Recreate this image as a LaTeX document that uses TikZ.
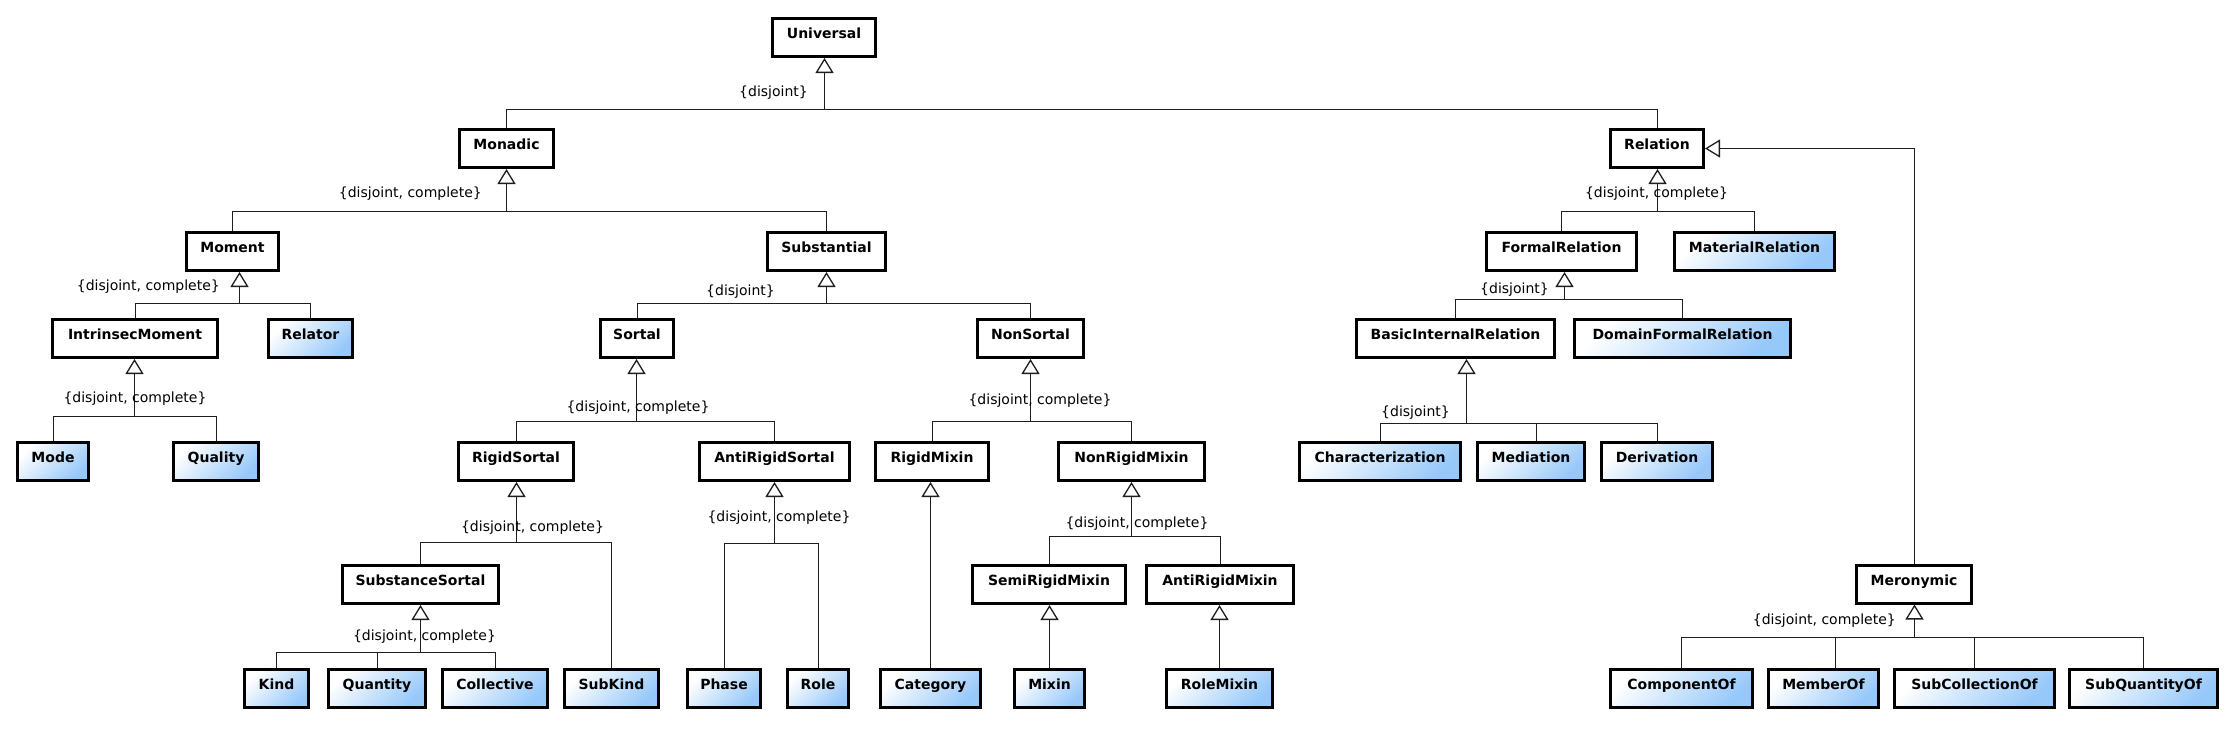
\documentclass[tikz,border=0pt]{standalone}
\usepackage{fontspec}
\setmainfont{DejaVu Sans}
\usetikzlibrary{arrows.meta}
\definecolor{umlblue}{RGB}{150,200,250}
\definecolor{linegray}{RGB}{30,30,30}
\tikzset{
  clsbase/.style={draw=black, line width=3pt, rectangle, inner sep=0pt,
    minimum height=38pt, font=\fontsize{14}{16}\selectfont\bfseries,
    text height=10pt, text depth=8pt},
  cls/.style={clsbase, fill=white},
  leaf/.style={clsbase, top color=white, bottom color=umlblue, shading angle=45},
  gen/.style={draw=linegray, line width=1pt, -{Triangle[open, length=15pt, width=18pt, line width=1.3pt]}},
  bus/.style={draw=linegray, line width=1pt},
  lbl/.style={inner sep=0pt, font=\fontsize{14}{16}\selectfont},
}
\begin{document}
\begin{tikzpicture}[x=1pt,y=-1pt]
\fill[white] (0,0) rectangle (2229,729);
\useasboundingbox (0,0) rectangle (2229,729);

% ---- classes ----
\node[cls, minimum width=103] (Universal) at (824,37.5) {Universal};
\node[cls, minimum width=94] (Monadic) at (506.5,148.5) {Monadic};
\node[cls, minimum width=93] (Relation) at (1657,148.5) {Relation};
\node[cls, minimum width=92] (Moment) at (232.5,251.5) {Moment};
\node[cls, minimum width=118] (Substantial) at (826.5,251.5) {Substantial};
\node[cls, minimum width=150] (FormalRelation) at (1561.5,251.5) {FormalRelation};
\node[leaf, minimum width=160] (MaterialRelation) at (1754.5,251.5) {MaterialRelation};
\node[cls, minimum width=165] (IntrinsecMoment) at (135,338.5) {IntrinsecMoment};
\node[leaf, minimum width=84] (Relator) at (310.5,338.5) {Relator};
\node[cls, minimum width=73] (Sortal) at (637,338.5) {Sortal};
\node[cls, minimum width=106] (NonSortal) at (1030.5,338.5) {NonSortal};
\node[cls, minimum width=198] (BasicInternalRelation) at (1455.5,338.5) {BasicInternalRelation};
\node[leaf, minimum width=216] (DomainFormalRelation) at (1682.5,338.5) {DomainFormalRelation};
\node[leaf, minimum width=71] (Mode) at (53,461.5) {Mode};
\node[leaf, minimum width=85] (Quality) at (216,461.5) {Quality};
\node[cls, minimum width=115] (RigidSortal) at (516,461.5) {RigidSortal};
\node[cls, minimum width=150] (AntiRigidSortal) at (774.5,461.5) {AntiRigidSortal};
\node[cls, minimum width=113] (RigidMixin) at (932,461.5) {RigidMixin};
\node[cls, minimum width=146] (NonRigidMixin) at (1131.5,461.5) {NonRigidMixin};
\node[leaf, minimum width=161] (Characterization) at (1380,461.5) {Characterization};
\node[leaf, minimum width=107] (Mediation) at (1531,461.5) {Mediation};
\node[leaf, minimum width=111] (Derivation) at (1657,461.5) {Derivation};
\node[cls, minimum width=156] (SubstanceSortal) at (420.5,584.5) {SubstanceSortal};
\node[cls, minimum width=153] (SemiRigidMixin) at (1049,584.5) {SemiRigidMixin};
\node[cls, minimum width=147] (AntiRigidMixin) at (1220,584.5) {AntiRigidMixin};
\node[cls, minimum width=115] (Meronymic) at (1914,584) {Meronymic};
\node[leaf, minimum width=64] (Kind) at (276.5,688.5) {Kind};
\node[leaf, minimum width=97] (Quantity) at (377,688.5) {Quantity};
\node[leaf, minimum width=105] (Collective) at (495,688.5) {Collective};
\node[leaf, minimum width=94] (SubKind) at (611.5,688.5) {SubKind};
\node[leaf, minimum width=73] (Phase) at (724,688.5) {Phase};
\node[leaf, minimum width=61] (Role) at (818,688.5) {Role};
\node[leaf, minimum width=100] (Category) at (930.5,688.5) {Category};
\node[leaf, minimum width=70] (Mixin) at (1049.5,688.5) {Mixin};
\node[leaf, minimum width=106] (RoleMixin) at (1219.5,688.5) {RoleMixin};
\node[leaf, minimum width=142] (ComponentOf) at (1681.5,688.5) {ComponentOf};
\node[leaf, minimum width=110] (MemberOf) at (1823.5,688.5) {MemberOf};
\node[leaf, minimum width=160] (SubCollectionOf) at (1974.5,688.5) {SubCollectionOf};
\node[leaf, minimum width=148] (SubQuantityOf) at (2143.5,688.5) {SubQuantityOf};

% ---- generalization set junctions ----
\coordinate (gU) at (824.5,109.5);
\coordinate (gMo) at (506.5,211.5);
\coordinate (gR) at (1657.5,211.5);
\coordinate (gMm) at (239.5,303.5);
\coordinate (gS) at (826.5,303.5);
\coordinate (gF) at (1564.5,299.5);
\coordinate (gIM) at (134.5,416.5);
\coordinate (gSo) at (636.5,421.5);
\coordinate (gNS) at (1030.5,421.5);
\coordinate (gB) at (1466.5,423.5);
\coordinate (gRS) at (516.5,542.5);
\coordinate (gAS) at (774.5,543.5);
\coordinate (gNR) at (1131.5,536.5);
\coordinate (gSS) at (420.5,652.5);
\coordinate (gM) at (1914.5,637.5);
\coordinate (tMed) at (1536.5,0);
\coordinate (tMem) at (1835.5,0);

% ---- arrows to parents ----
\foreach \g/\p in {gU/Universal, gMo/Monadic, gR/Relation, gMm/Moment, gS/Substantial,
  gF/FormalRelation, gIM/IntrinsecMoment, gSo/Sortal, gNS/NonSortal, gB/BasicInternalRelation,
  gRS/RigidSortal, gAS/AntiRigidSortal, gNR/NonRigidMixin, gSS/SubstanceSortal, gM/Meronymic}
  \draw[gen] (\g) -- (\p.south -| \g);

% ---- bus lines from children ----
\foreach \c/\g in {Monadic/gU, Relation/gU, Moment/gMo, Substantial/gMo,
  FormalRelation/gR, MaterialRelation/gR, IntrinsecMoment/gMm, Relator/gMm,
  Sortal/gS, NonSortal/gS, BasicInternalRelation/gF, DomainFormalRelation/gF,
  Mode/gIM, Quality/gIM, RigidSortal/gSo, AntiRigidSortal/gSo,
  RigidMixin/gNS, NonRigidMixin/gNS, Characterization/gB, Derivation/gB,
  SubstanceSortal/gRS, SubKind/gRS, Phase/gAS, Role/gAS,
  SemiRigidMixin/gNR, AntiRigidMixin/gNR, Kind/gSS, Quantity/gSS, Collective/gSS,
  ComponentOf/gM, SubCollectionOf/gM, SubQuantityOf/gM}
  \draw[bus] (\c.north) |- (\g);
\draw[bus] (Mediation.north -| tMed) |- (gB);
\draw[bus] (MemberOf.north -| tMem) |- (gM);

% ---- single generalizations ----
\draw[gen] (Category.north) -- (RigidMixin.south -| Category.north);
\draw[gen] (Mixin.north) -- (SemiRigidMixin.south -| Mixin.north);
\draw[gen] (RoleMixin.north) -- (AntiRigidMixin.south -| RoleMixin.north);
\draw[gen] (Meronymic.north) |- (Relation.east);

% ---- constraint labels ----
\node[lbl, anchor=base east] (lU) at (808,96.5) {\{disjoint\}};
\node[lbl, anchor=base east] (lMo) at (482,197.5) {\{disjoint, complete\}};
\node[lbl, anchor=base] (lR) at (1656.5,197.5) {\{disjoint, complete\}};
\node[lbl, anchor=base east] (lMm) at (220,290.5) {\{disjoint, complete\}};
\node[lbl, anchor=base east] (lS) at (775,295.5) {\{disjoint\}};
\node[lbl, anchor=base east] (lF) at (1549,293.5) {\{disjoint\}};
\node[lbl, anchor=base] (lIM) at (135,402.5) {\{disjoint, complete\}};
\node[lbl, anchor=base] (lSo) at (638,411.5) {\{disjoint, complete\}};
\node[lbl, anchor=base] (lNS) at (1040,404.5) {\{disjoint, complete\}};
\node[lbl, anchor=base east] (lB) at (1450,416.5) {\{disjoint\}};
\node[lbl, anchor=base] (lRS) at (532.5,531.5) {\{disjoint, complete\}};
\node[lbl, anchor=base] (lAS) at (779,521.5) {\{disjoint, complete\}};
\node[lbl, anchor=base] (lNR) at (1137,527.5) {\{disjoint, complete\}};
\node[lbl, anchor=base] (lSS) at (424.5,640.5) {\{disjoint, complete\}};
\node[lbl, anchor=base east] (lM) at (1896,624.5) {\{disjoint, complete\}};
\end{tikzpicture}
\end{document}
